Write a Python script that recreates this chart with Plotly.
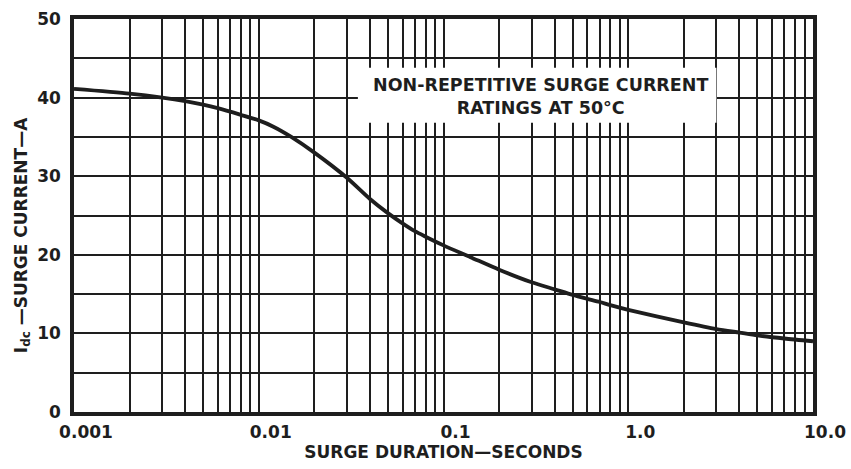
import math
import plotly.graph_objects as go

# ---- data ----
duration_s = [0.001, 0.002, 0.003, 0.004, 0.005, 0.006, 0.008, 0.01, 0.012, 0.015, 0.02,
              0.03, 0.04, 0.05, 0.06, 0.07, 0.08, 0.1, 0.14, 0.2, 0.3, 0.4, 0.5,
              0.6, 0.7, 0.8, 1.0, 2.0, 3.0, 4.0, 5.0, 7.0, 10.0]
surge_current_a = [41.1, 40.5, 40.0, 39.55, 39.1, 38.65, 37.8, 37.1, 36.3, 35.0, 33.0,
                   29.8, 27.1, 25.3, 24.0, 23.0, 22.3, 21.2, 19.7, 18.1, 16.5, 15.6, 14.9,
                   14.4, 14.0, 13.6, 13.0, 11.4, 10.55, 10.1, 9.75, 9.35, 9.0]

x_label_vals = [0.001, 0.01, 0.1, 1.0, 10.0]
x_label_text = ["0.001", "0.01", "0.1", "1.0", "10.0"]
x_minor_digits = [1, 2, 3, 4, 5, 6, 7, 8, 9]
y_grid_vals = [0, 5, 10, 15, 20, 25, 30, 35, 40, 45, 50]
y_label_vals = [0, 10, 20, 30, 40, 50]

note_text = "NON-REPETITIVE SURGE CURRENT<br>RATINGS AT 50°C"
note_box_x = [0.0344, 3.0]
note_box_y = [36.8, 43.8]

FONT = "DejaVu Sans"
INK = "#1e1e1e"

x_grid_vals = [d * dec for dec in x_label_vals[:-1] for d in x_minor_digits] + [x_label_vals[-1]]
x_grid_text = [x_label_text[x_label_vals.index(v)] if v in x_label_vals else "" for v in x_grid_vals]
y_grid_text = [str(v) if v in y_label_vals else "" for v in y_grid_vals]

fig = go.Figure()
fig.add_trace(go.Scatter(
    x=duration_s, y=surge_current_a, mode="lines",
    line=dict(color=INK, width=3.8, shape="spline", smoothing=0.7),
    hoverinfo="skip", showlegend=False))

fig.add_shape(type="rect", xref="x", yref="y",
              x0=note_box_x[0], x1=note_box_x[1], y0=note_box_y[0], y1=note_box_y[1],
              fillcolor="white", line=dict(width=0), layer="between")

fig.add_annotation(x=(math.log10(note_box_x[0]) + math.log10(note_box_x[1])) / 2,
                   y=sum(note_box_y) / 2,
                   xref="x", yref="y", text=note_text, showarrow=False,
                   font=dict(family=FONT, size=17.5, color=INK, weight=700),
                   align="center", xshift=3, yshift=-1)

fig.add_annotation(x=0, y=0.45, xref="paper", yref="paper", xanchor="center", xshift=-52,
                   text="I<sub>dc</sub> —SURGE CURRENT—A", textangle=-90, showarrow=False,
                   font=dict(family=FONT, size=17, color=INK, weight=700))

fig.update_xaxes(type="log", range=[-3, 1], tickvals=x_grid_vals, ticktext=x_grid_text,
                 showgrid=True, gridcolor=INK, gridwidth=1.6, ticks="",
                 showline=True, linecolor=INK, linewidth=3.5, mirror=True,
                 ticklabelshift=12, ticklabelstandoff=2,
                 title=dict(text="SURGE DURATION—SECONDS", standoff=6,
                            font=dict(family=FONT, size=17, color=INK, weight=700)),
                 tickfont=dict(family=FONT, size=17, color=INK, weight=700), zeroline=False)
fig.update_yaxes(range=[0, 50], tickvals=y_grid_vals, ticktext=y_grid_text,
                 showgrid=True, gridcolor=INK, gridwidth=1.6, ticks="",
                 showline=True, linecolor=INK, linewidth=3.5, mirror=True,
                 ticklabelstandoff=6,
                 tickfont=dict(family=FONT, size=17, color=INK, weight=700), zeroline=False)

fig.update_layout(width=851, height=469, margin=dict(l=74, r=38, t=19, b=57, autoexpand=False),
                  paper_bgcolor="white", plot_bgcolor="white")

fig.write_html("out.html", config={"displayModeBar": False},
               post_script="document.body.style.margin='0px';")
